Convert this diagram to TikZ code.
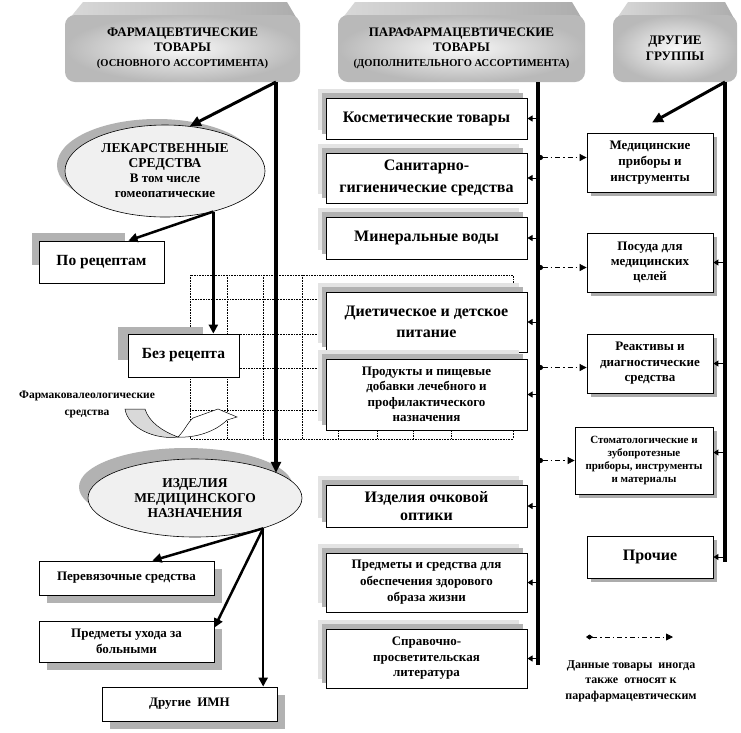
\documentclass[tikz,border=0pt]{standalone}
\usepackage{fontspec}
\setmainfont{Liberation Serif}
\usetikzlibrary{arrows.meta,shadows,shapes.geometric,calc}
\newcommand\fz[2]{\fontsize{#1}{#2}\selectfont\bfseries}
\begin{document}
\begin{tikzpicture}[x=1pt,y=-1pt,
  hdr/.style={rounded corners=10pt, inner color=gray!5, outer color=gray!55, minimum height=67pt, align=center, inner sep=0pt},
  mbox/.style={draw, fill=white, line width=1pt, align=center, inner sep=0pt, minimum width=201pt,
     general shadow={fill=gray!22, shadow xshift=-8pt, shadow yshift=9pt},
     general shadow={fill=gray!60, shadow xshift=-4pt, shadow yshift=5pt}},
  rbox/.style={draw, fill=white, line width=0.8pt, align=center, inner sep=0pt,
     general shadow={fill=gray!65, shadow xshift=4pt, shadow yshift=-4pt}},
  lbox/.style={draw, fill=white, line width=0.8pt, align=center, inner sep=0pt},
  lshad/.style={general shadow={fill=gray!60, shadow xshift=8pt, shadow yshift=-8pt}},
  ell/.style={ellipse, draw, fill=gray!12, line width=0.6pt, align=center, inner sep=0pt},
  trunk/.style={line width=4pt},
  big/.style={line width=3pt, -{Triangle[length=11pt,width=10pt]}},
  mid/.style={line width=2.5pt, -{Triangle[length=9pt,width=9pt]}},
  small/.style={line width=1pt, -{Triangle[length=5pt,width=6pt]}},
  dd/.style={line width=0.8pt, dash pattern=on 5pt off 3pt on 1.5pt off 3pt, {Circle[length=5pt]}-{Triangle[length=7pt,width=7pt]}},
  ddl/.style={line width=0.8pt, dash pattern=on 5pt off 3pt on 1.5pt off 3pt, {Diamond[length=7pt,width=5pt]}-{Triangle[length=7pt,width=7pt]}},
  gridl/.style={densely dotted, line width=0.6pt},
]
\fill[white] (0,0) rectangle (741,732);
\useasboundingbox (0,0) rectangle (741,732);

% dotted grid (background plan)
\draw[gridl] (190,275) rectangle (513,439);
\foreach \yy in {299,334,368,410} \draw[gridl] (190,\yy) -- (320,\yy);
\foreach \xx in {227,263,302} \draw[gridl] (\xx,275) -- (\xx,439);
\foreach \xx in {338,377,413,451} \draw[gridl] (\xx,425) -- (\xx,439);

% header bevels
\shade[left color=gray!30, right color=gray!65] (83,2) -- (287,2) -- (300,24) -- (65,24) -- cycle;
\shade[left color=gray!30, right color=gray!65] (355,2) -- (572,2) -- (585,24) -- (338,24) -- cycle;
\shade[left color=gray!30, right color=gray!65] (628,2) -- (725,2) -- (737,24) -- (613,24) -- cycle;

% headers
\node[hdr, minimum width=235pt, font=\fz{13}{15}] (h1) at (182.5,48.5) {ФАРМАЦЕВТИЧЕСКИЕ\\ТОВАРЫ\\\fz{10.5}{16}(ОСНОВНОГО АССОРТИМЕНТА)};
\node[hdr, minimum width=247pt, font=\fz{13}{15}] (h2) at (461.5,48.5) {ПАРАФАРМАЦЕВТИЧЕСКИЕ\\ТОВАРЫ\\\fz{10.5}{17}(ДОПОЛНИТЕЛЬНОГО АССОРТИМЕНТА)};
\node[hdr, minimum width=124pt, font=\fz{13}{16}] (h3) at (675,48.5) {ДРУГИЕ\\ГРУППЫ};

% middle column
\node[mbox, minimum height=41pt, font=\fz{16}{18}] (kosm) at (426.5,118.5) {Косметические товары};
\node[mbox, minimum height=50pt, font=\fz{16}{22}] (sanit) at (426.5,178) {Санитарно-\\гигиенические средства};
\node[mbox, minimum height=42pt, font=\fz{16}{18}] (miner) at (426.5,238) {Минеральные воды};
\node[mbox, minimum height=60pt, font=\fz{16}{21}] (diet) at (426.5,322) {Диетическое и детское\\питание};
\node[mbox, minimum height=71pt, font=\fz{13}{15.5}] (prod) at (426.5,394.5) {Продукты и пищевые\\добавки лечебного и\\профилактического\\назначения};
\node[mbox, minimum height=42pt, font=\fz{16}{18}] (opt) at (426.5,506) {Изделия очковой\\оптики};
\node[mbox, minimum height=59pt, font=\fz{13}{16.5}] (zozh) at (426.5,582.5) {Предметы и средства для\\обеспечения здорового\\образа жизни};
\node[mbox, minimum height=59pt, font=\fz{13}{15.5}] (sprav) at (426.5,658.5) {Справочно-\\просветительская\\литература};

% right column
\node[rbox, minimum width=126pt, minimum height=59pt, font=\fz{13}{16}] (medpr) at (650,162.5) {Медицинские\\приборы и\\инструменты};
\node[rbox, minimum width=126pt, minimum height=59pt, font=\fz{13}{15}] (posuda) at (650,262.5) {Посуда для\\медицинских\\целей};
\node[rbox, minimum width=126pt, minimum height=59pt, font=\fz{13}{15.5}] (reakt) at (650,363.5) {Реактивы и\\диагностические\\средства};
\node[rbox, minimum width=138pt, minimum height=67pt, font=\fz{11}{13}] (stom) at (644,460.5) {Стоматологические и\\зубопротезные\\приборы, инструменты\\и материалы};
\node[rbox, minimum width=126pt, minimum height=42pt, font=\fz{16}{18}] (proch) at (650,557) {Прочие};

% left column
\fill[gray!60] (32,233) rectangle (125,265);
\node[lbox, minimum width=125pt, minimum height=42pt, font=\fz{15.5}{18}] (porec) at (101.5,262) {По рецептам};
\fill[gray!60] (118,327) rectangle (203,360);
\node[lbox, minimum width=111pt, minimum height=43pt, font=\fz{15.5}{18}] (bezrec) at (183.5,355.5) {Без рецепта};
\node[ell, minimum width=200pt, minimum height=92pt, font=\fz{13.5}{15},
  general shadow={fill=gray!60, shadow xshift=-8pt, shadow yshift=6pt}] (lek) at (165,171)
  {ЛЕКАРСТВЕННЫЕ\\СРЕДСТВА\\\fz{13}{16.5}В том числе\\\fz{13}{15}гомеопатические};
\node[ell, minimum width=214pt, minimum height=78pt, font=\fz{13.5}{15},
  general shadow={fill=gray!60, shadow xshift=-9pt, shadow yshift=11pt}] (izd) at (195,498)
  {ИЗДЕЛИЯ\\МЕДИЦИНСКОГО\\НАЗНАЧЕНИЯ};
\node[lbox, lshad, minimum width=175pt, minimum height=34pt, font=\fz{13}{15}] (perev) at (126.5,578) {Перевязочные средства};
\node[lbox, lshad, minimum width=175pt, minimum height=41pt, font=\fz{13}{16}] (uhod) at (126.5,641.5) {Предметы ухода за\\больными};
\node[lbox, lshad, minimum width=175pt, minimum height=34pt, font=\fz{13}{15}] (drim) at (189.5,704) {Другие\ \ ИМН};

% pharmacovaleological curved arrow
\node[align=center, font=\fz{11.5}{17}] (fv) at (87,404) {Фармаковалеологические\\средства};
\filldraw[fill=gray!30, line width=0.5pt] (125,409) .. controls (128,428) and (155,440) .. (178,437) .. controls (162,431) and (149,422) .. (145,409) -- cycle;
\filldraw[fill=white, line width=0.5pt] (178,437) .. controls (185,430) and (188,422) .. (193,418) -- (218,409) -- (237,417) -- (227,420) .. controls (215,432) and (195,438) .. (178,437) -- cycle;

% trunks
\coordinate (lt) at (276,82);
\coordinate (mt) at (538,82);
\coordinate (mb) at (538,665);
\coordinate (rt) at (725,82);
\coordinate (rb) at (725,562);
\draw[trunk] (mt) -- (mb);
\draw[trunk] (rt) -- (rb);
\draw[trunk, -{Triangle[length=11pt,width=10pt]}] (lt) -- (lt |- izd.17);

% left arrows
\coordinate (medtop) at ($(medpr.north)+(2,-10)$);
\coordinate (pin) at ($(porec.north)+(27,0)$);
\coordinate (pvin) at ($(perev.north)+(26,0)$);
\coordinate (uin) at ($(uhod.north east)+(0,7)$);
\draw[big] (lt) -- (lek.61);
\draw[big] (rt) -- (medtop);
\draw[mid] (lek.-40) -- (pin);
\draw[mid] (lek.-40) -- (lek.-40 |- bezrec.north);
\draw[mid] (izd.-24) -- (pvin);
\draw[mid] (izd.-24) -- (uin);
\draw[mid] (izd.-24) -- (izd.-24 |- drim.north);

% middle trunk to boxes
\foreach \b in {kosm,sanit,miner,diet,prod,opt,zozh,sprav}
  \draw[small] (\b.east -| mt) -- (\b.east);
% right trunk to boxes
\coordinate (sin) at ($(stom.east)+(0,-8)$);
\foreach \b in {posuda,reakt,proch,sin}
  \draw[small] (\b -| rt) -- (\b);

% dash-dot links
\coordinate (d1) at ($(medpr.west)+(0,-5)$);
\coordinate (d2) at ($(posuda.west)+(0,5)$);
\coordinate (d3) at ($(reakt.west)+(0,4)$);
\coordinate (d4) at (stom.west);
\foreach \d in {d1,d2,d3,d4}
  \draw[dd] (\d -| mt) -- (\d);

% legend
\coordinate (lg1) at (586,637);
\coordinate (lg2) at (673,637);
\draw[ddl] (lg1) -- (lg2);
\node[align=center, font=\fz{12}{15.5}] (lgt) at (631,681) {Данные товары\ \ иногда\\также\ \ относят к\\парафармацевтическим};
\end{tikzpicture}
\end{document}
